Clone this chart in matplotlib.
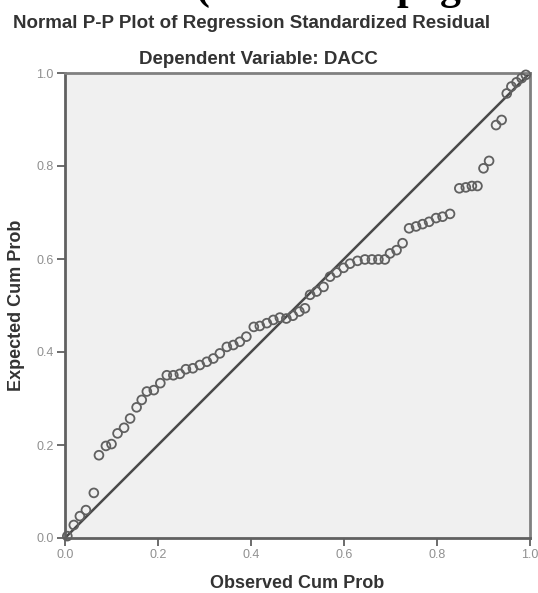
import matplotlib.pyplot as plt

# valores (P-P plot de residuos)
observed = [0.005, 0.019, 0.032, 0.045, 0.062, 0.073, 0.088, 0.100, 0.113, 0.127,
            0.140, 0.154, 0.165, 0.176, 0.191, 0.205, 0.219, 0.233, 0.247, 0.260,
            0.275, 0.290, 0.305, 0.319, 0.333, 0.348, 0.362, 0.376, 0.390, 0.406,
            0.419, 0.434, 0.448, 0.462, 0.476, 0.490, 0.504, 0.516, 0.527, 0.541,
            0.556, 0.570, 0.584, 0.599, 0.613, 0.629, 0.645, 0.660, 0.674, 0.688,
            0.699, 0.713, 0.726, 0.740, 0.755, 0.769, 0.783, 0.798, 0.812, 0.828,
            0.848, 0.862, 0.875, 0.887, 0.900, 0.912, 0.927, 0.939, 0.950, 0.960,
            0.971, 0.982, 0.991]
expected = [0.004, 0.028, 0.047, 0.060, 0.097, 0.178, 0.198, 0.202, 0.225, 0.237,
            0.257, 0.281, 0.297, 0.315, 0.318, 0.333, 0.350, 0.350, 0.353, 0.363,
            0.365, 0.372, 0.379, 0.386, 0.397, 0.411, 0.415, 0.422, 0.433, 0.454,
            0.456, 0.462, 0.469, 0.474, 0.472, 0.478, 0.487, 0.494, 0.523, 0.530,
            0.540, 0.562, 0.571, 0.581, 0.590, 0.596, 0.599, 0.599, 0.599, 0.599,
            0.612, 0.619, 0.634, 0.666, 0.670, 0.675, 0.680, 0.688, 0.691, 0.697,
            0.752, 0.754, 0.757, 0.757, 0.795, 0.811, 0.888, 0.899, 0.956, 0.971,
            0.980, 0.989, 0.996]
ticks = [0.0, 0.2, 0.4, 0.6, 0.8, 1.0]
tick_labels = ["0.0", "0.2", "0.4", "0.6", "0.8", "1.0"]

plt.rcParams['font.family'] = ['Liberation Sans', 'DejaVu Sans']

fig = plt.figure(figsize=(5.38, 5.93), dpi=100)
ax = fig.add_axes([65 / 538, 55 / 593, 465 / 538, 465 / 593])
ax.set_facecolor("#f0f0f0")

# restos del texto del documento, cortados arriba
for xp, ch in [(202, "("), (408, "p"), (450, "g")]:
    fig.text(xp / 538, 1 + 1 / 593, ch, family="Liberation Serif", fontsize=30,
             fontweight="bold", ha="center", va="baseline", color="black")

fig.text(252 / 538, 1 - 23 / 593, "Normal P-P Plot of Regression Standardized Residual",
         ha="center", va="center", fontsize=13.5, fontweight="bold", color="#333333")
fig.text(258 / 538, 1 - 60 / 593, "Dependent Variable: DACC",
         ha="center", va="center", fontsize=13.5, fontweight="bold", color="#333333")

ax.plot([0, 1], [0, 1], color="#4a4a4a", lw=1.8, zorder=2)
ax.scatter(observed, expected, s=40, facecolors="none", edgecolors="#606060",
           linewidths=1.3, zorder=3, clip_on=False)

ax.set_xlim(0, 1)
ax.set_ylim(0, 1)
ax.set_xticks(ticks)
ax.set_xticklabels(tick_labels)
ax.set_yticks(ticks)
ax.set_yticklabels(tick_labels)
ax.tick_params(length=6, width=1.3, color="#606060", labelsize=9, labelcolor="#909090", pad=2)

for s in ax.spines.values():
    s.set_color("#808080")
    s.set_linewidth(2)
ax.spines["left"].set_color("#606060")
ax.spines["bottom"].set_color("#606060")

ax.set_xlabel("Observed Cum Prob", fontsize=13, fontweight="bold", color="#333333", labelpad=10)
ax.set_ylabel("Expected Cum Prob", fontsize=13, fontweight="bold", color="#333333", labelpad=8)

fig.savefig("out.png", dpi=100)
